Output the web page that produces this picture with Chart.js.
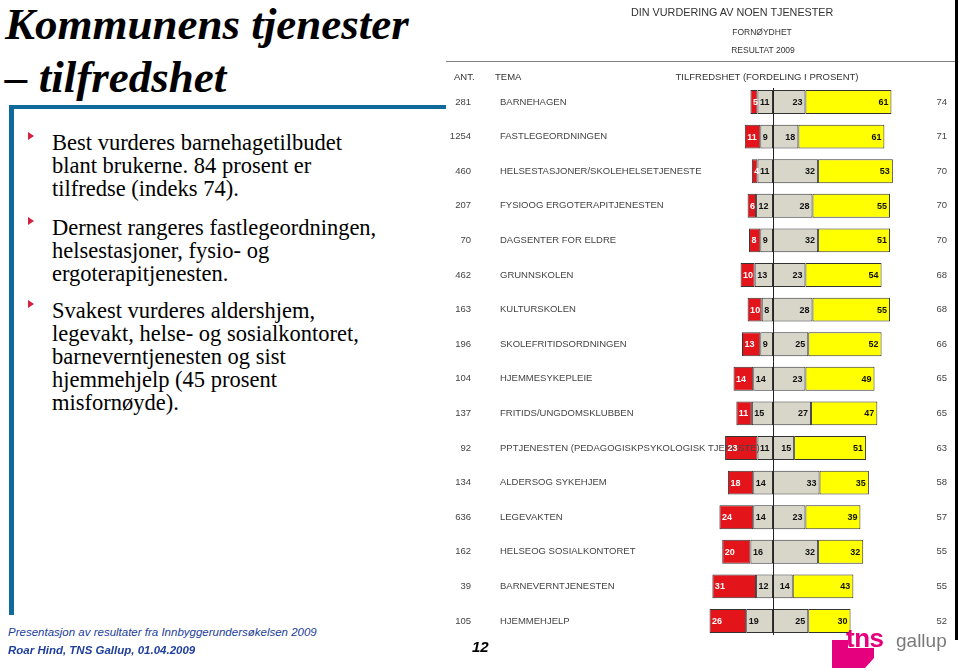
<!DOCTYPE html>
<html lang="no">
<head>
<meta charset="utf-8">
<title>Kommunens tjenester – tilfredshet</title>
<script src="https://cdn.jsdelivr.net/npm/chart.js@4.4.1/dist/chart.umd.min.js"></script>
<style>
  html, body { margin: 0; padding: 0; background: #fff; }
  body { width: 960px; height: 671px; position: relative; overflow: hidden; font-family: 'Liberation Sans', Arial, sans-serif; }
  .abs { position: absolute; white-space: nowrap; }
  .title { left: 5px; top: -2px; font: italic bold 45px/53px 'Liberation Serif', 'Times New Roman', serif; color: #000; }
  .frame-h { position: absolute; left: 10px; top: 105px; width: 436px; height: 4px; background: #10699b; }
  .frame-v { position: absolute; left: 9px; top: 105px; width: 5px; height: 510px; background: #10699b; }
  .bullet { left: 52px; font: 22.5px/23px 'Liberation Serif', 'Times New Roman', serif; color: #000; }
  .bullet::before { content: ''; position: absolute; left: -24px; top: 1px; border-left: 6px solid #d4213d; border-top: 4.5px solid transparent; border-bottom: 4.5px solid transparent; }
  .hdr { color: #333; line-height: 14px; height: 14px; }
  .foot { color: #21409a; font-style: italic; font-size: 11.5px; line-height: 14px; }
  #chartBox { position: absolute; left: 445px; top: 0; width: 515px; height: 671px; }
</style>
</head>
<body>
<div class="abs title">Kommunens tjenester<br>– tilfredshet</div>
<div class="frame-h"></div>
<div class="frame-v"></div>

<div class="abs bullet" style="top:131px">Best vurderes barnehagetilbudet<br>blant brukerne. 84 prosent er<br>tilfredse (indeks 74).</div>
<div class="abs bullet" style="top:216px">Dernest rangeres fastlegeordningen,<br>helsestasjoner, fysio- og<br>ergoterapitjenesten.</div>
<div class="abs bullet" style="top:299px">Svakest vurderes aldershjem,<br>legevakt, helse- og sosialkontoret,<br>barneverntjenesten og sist<br>hjemmehjelp (45 prosent<br>misfornøyde).</div>

<div id="chartBox"><canvas id="chart"></canvas></div>

<div class="abs hdr" style="left:631px; width:200px; text-align:center; top:5px; font-size:10.8px;">DIN VURDERING AV NOEN TJENESTER</div>
<div class="abs hdr" style="left:712px; width:100px; text-align:center; top:25px; font-size:8.5px;">FORNØYDHET</div>
<div class="abs hdr" style="left:713px; width:100px; text-align:center; top:43px; font-size:8.5px;">RESULTAT 2009</div>
<div class="abs" style="left:446px; top:61px; width:510px; height:1px; background:#808080;"></div>
<div class="abs hdr" style="left:454px; top:70px; font-size:9.5px;">ANT.</div>
<div class="abs hdr" style="left:495px; top:70px; font-size:9.5px;">TEMA</div>
<div class="abs hdr" style="left:667px; width:200px; text-align:center; top:70px; font-size:9.5px;">TILFREDSHET (FORDELING I PROSENT)</div>
<div class="abs" style="left:955px; top:0; width:3px; height:640px; background:#000;"></div>

<div class="abs foot" style="left:8px; top:625px;">Presentasjon av resultater fra Innbyggerundersøkelsen 2009</div>
<div class="abs foot" style="left:8px; top:643px; font-weight:bold;">Roar Hind, TNS Gallup, 01.04.2009</div>
<div class="abs" style="left:472px; top:639px; font: italic bold 15px/16px 'Liberation Sans', Arial, sans-serif; color:#000;">12</div>

<svg class="abs" style="left:830px; top:625px;" width="125" height="46" viewBox="0 0 125 46">
  <polygon points="2,15 18,15 18,23 44,23 44,33 35,43 2,43" fill="#e5007d"/>
  <text x="16" y="22" font-family="Liberation Sans, Arial, sans-serif" font-weight="bold" font-size="26" fill="#e5007d" letter-spacing="-0.5">tns</text>
  <text x="66" y="22" font-family="Liberation Sans, Arial, sans-serif" font-size="19" fill="#7a7a7a">gallup</text>
</svg>

<script>
// rows, top to bottom
const categories = [
  'BARNEHAGEN', 'FASTLEGEORDNINGEN', 'HELSESTASJONER/SKOLEHELSETJENESTE', 'FYSIOOG ERGOTERAPITJENESTEN',
  'DAGSENTER FOR ELDRE', 'GRUNNSKOLEN', 'KULTURSKOLEN', 'SKOLEFRITIDSORDNINGEN', 'HJEMMESYKEPLEIE',
  'FRITIDS/UNGDOMSKLUBBEN', 'PPTJENESTEN (PEDAGOGISKPSYKOLOGISK TJENESTE)', 'ALDERSOG SYKEHJEM',
  'LEGEVAKTEN', 'HELSEOG SOSIALKONTORET', 'BARNEVERNTJENESTEN', 'HJEMMEHJELP'
];
const antall = [281, 1254, 460, 207, 70, 462, 163, 196, 104, 137, 92, 134, 636, 162, 39, 105];
const indeks = [74, 71, 70, 70, 70, 68, 68, 66, 65, 65, 63, 58, 57, 55, 55, 52];

// fordeling i prosent
const svaertMisfornoyd = [5, 11, 4, 6, 8, 10, 10, 13, 14, 11, 23, 18, 24, 20, 31, 26];
const misfornoyd       = [11, 9, 11, 12, 9, 13, 8, 9, 14, 15, 11, 14, 14, 16, 12, 19];
const fornoyd          = [23, 18, 32, 28, 32, 23, 28, 25, 23, 27, 15, 33, 23, 32, 14, 25];
const svaertFornoyd    = [61, 61, 53, 55, 51, 54, 55, 52, 49, 47, 51, 35, 39, 32, 43, 30];

const xMin = -60;
const xMax = 120;

// text columns, zero line and value labels
const rowText = {
  id: 'rowText',
  afterDatasetsDraw(chart) {
    const { ctx, scales: { x, y } } = chart;
    ctx.save();

    const x0 = Math.round(x.getPixelForValue(0)) + 0.5;
    ctx.strokeStyle = '#222';
    ctx.lineWidth = 1;
    ctx.beginPath();
    ctx.moveTo(x0, y.getPixelForValue(0) - 14);
    ctx.lineTo(x0, y.getPixelForValue(categories.length - 1) + 14);
    ctx.stroke();

    ctx.font = '9.5px "Liberation Sans", Arial, sans-serif';
    ctx.fillStyle = '#444';
    ctx.textBaseline = 'middle';
    categories.forEach((c, i) => {
      const py = y.getPixelForValue(i);
      ctx.textAlign = 'right';
      ctx.fillText(antall[i], 26, py);
      ctx.textAlign = 'left';
      ctx.fillText(c, 55, py);
      ctx.textAlign = 'right';
      ctx.fillText(indeks[i], 502, py);
    });

    ctx.font = 'bold 9px "Liberation Sans", Arial, sans-serif';
    chart.data.datasets.forEach((ds, di) => {
      const meta = chart.getDatasetMeta(di);
      meta.data.forEach((bar, i) => {
        const v = ds.data[i];
        const left = Math.min(bar.x, bar.base);
        const right = Math.max(bar.x, bar.base);
        ctx.fillStyle = ds.labelColor;
        if (v < 0) {
          ctx.textAlign = 'left';
          ctx.fillText(Math.abs(v), left + 2.5, bar.y + 0.5);
        } else {
          ctx.textAlign = 'right';
          ctx.fillText(v, right - 3, bar.y + 0.5);
        }
      });
    });
    ctx.restore();
  }
};

const barStyle = { borderColor: '#333', borderWidth: 1, borderSkipped: false, barPercentage: 0.69, categoryPercentage: 1 };

new Chart(document.getElementById('chart'), {
  type: 'bar',
  data: {
    labels: categories,
    datasets: [
      { label: 'Misfornøyd', data: misfornoyd.map(v => -v), backgroundColor: '#d7d6c9', labelColor: '#111', ...barStyle },
      { label: 'Svært misfornøyd', data: svaertMisfornoyd.map(v => -v), backgroundColor: '#e4141b', labelColor: '#fff', ...barStyle },
      { label: 'Fornøyd', data: fornoyd, backgroundColor: '#d7d6c9', labelColor: '#111', ...barStyle },
      { label: 'Svært fornøyd', data: svaertFornoyd, backgroundColor: '#ffff00', labelColor: '#111', ...barStyle }
    ]
  },
  options: {
    indexAxis: 'y',
    responsive: true,
    maintainAspectRatio: false,
    animation: false,
    layout: { padding: { left: 243.4, right: 17.8, top: 84.7, bottom: 32.7 } },
    scales: {
      x: { stacked: true, min: xMin, max: xMax, display: false },
      y: { stacked: true, display: false }
    },
    plugins: {
      legend: { display: false },
      tooltip: { enabled: false }
    }
  },
  plugins: [rowText]
});
</script>
</body>
</html>
